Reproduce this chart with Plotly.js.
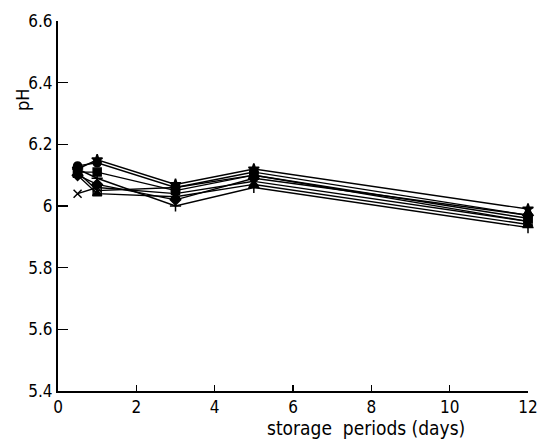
<!DOCTYPE html>
<html>
<head>
<meta charset="utf-8">
<script src="https://cdn.plot.ly/plotly-3.0.1.min.js"></script>
<style>html,body{margin:0;padding:0;background:#fff;}#chart{width:537px;height:441px;}</style>
</head>
<body>
<div id="chart"></div>
<script>
const days = [0.5, 1, 3, 5, 12];
const s1 = [6.12, 6.15, 6.07, 6.12, 5.99];
const s2 = [6.13, 6.14, 6.06, 6.11, 5.97];
const s3 = [6.11, 6.11, 6.05, 6.10, 5.96];
const s4 = [6.04, 6.06, 6.04, 6.08, 5.95];
const s5 = [6.10, 6.04, 6.03, 6.07, 5.94];
const s6 = [6.12, 6.09, 6.00, 6.06, 5.93];
const s7 = [6.10, 6.07, 6.02, 6.09, 5.97];
const s8 = [6.11, 6.05, 6.06, 6.10, 5.95];
const seriesList = [s1, s2, s3, s4, s5, s6, s7, s8];
const symbols = ['star', 'circle', 'square', 'x-thin-open', 'triangle-up', 'cross-thin-open', 'diamond', 'square-open'];
const xTickVals = [0, 2, 4, 6, 8, 10, 12];
const xTickText = ['0', '2', '4', '6', '8', '10', '12'];
const yTickVals = [5.4, 5.6, 5.8, 6.0, 6.2, 6.4, 6.6];
const yTickText = ['5.4', '5.6', '5.8', '6', '6.2', '6.4', '6.6'];

const font = 'DejaVu Sans Condensed, DejaVu Sans, sans-serif';
const traces = seriesList.map((ys, i) => ({
  x: days, y: ys, type: 'scatter', mode: 'lines+markers',
  line: {color: '#000', width: 1.4},
  marker: {symbol: symbols[i], size: 8, color: '#000', line: {color: '#000', width: 1.5}},
  cliponaxis: false, showlegend: false
}));

const layout = {
  width: 537, height: 441,
  margin: {l: 58, r: 9, t: 21, b: 50},
  paper_bgcolor: '#fff', plot_bgcolor: '#fff',
  xaxis: {range: [0, 12], tickvals: xTickVals, ticktext: xTickText,
    ticks: 'inside', ticklen: 6, tickwidth: 1.5, tickcolor: '#000',
    ticklabeloverflow: 'allow',
    showline: true, linecolor: '#000', linewidth: 2, zeroline: false, showgrid: false,
    tickfont: {family: font, size: 17, color: '#000'}},
  yaxis: {range: [5.4, 6.6], tickvals: yTickVals, ticktext: yTickText,
    ticks: 'inside', ticklen: 10, tickwidth: 1.5, tickcolor: '#000',
    ticklabeloverflow: 'allow',
    showline: true, linecolor: '#000', linewidth: 2, zeroline: false, showgrid: false,
    tickfont: {family: font, size: 17, color: '#000'}},
  annotations: [
    {text: 'storage  periods (days)', xref: 'paper', yref: 'paper', x: 0.655, y: -0.065,
     xanchor: 'center', yanchor: 'top', showarrow: false,
     font: {family: font, size: 19, color: '#000'}},
    {text: 'pH', xref: 'paper', yref: 'paper', x: -0.077, y: 0.786, textangle: -90,
     xanchor: 'center', yanchor: 'middle', showarrow: false,
     font: {family: font, size: 18, color: '#000'}}
  ]
};
Plotly.newPlot('chart', traces, layout, {staticPlot: true, displayModeBar: false});
</script>
</body>
</html>
